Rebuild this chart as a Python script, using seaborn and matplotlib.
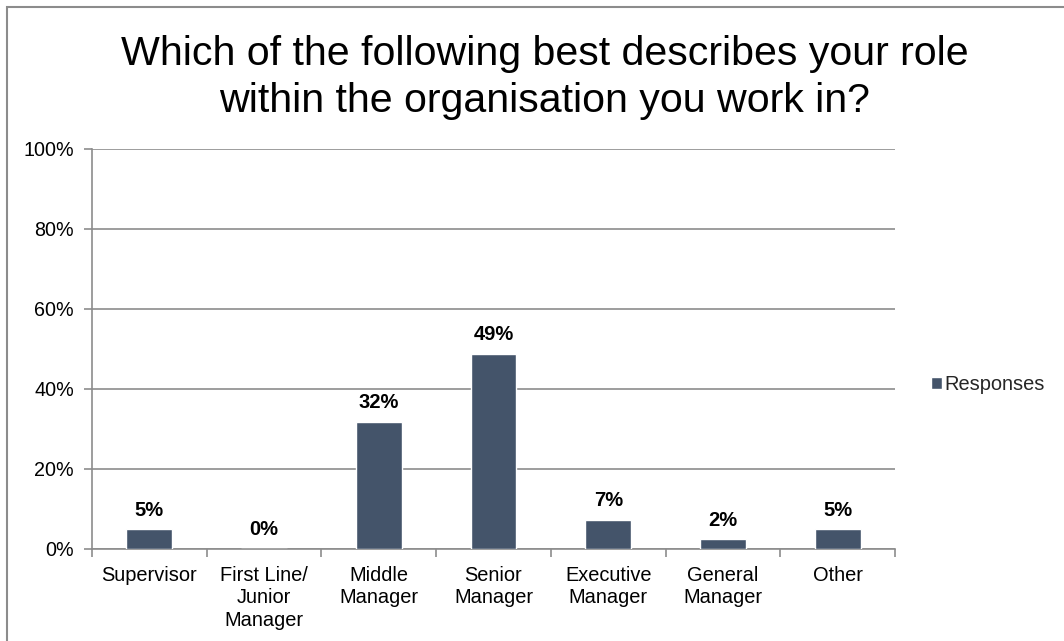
import matplotlib
matplotlib.use("Agg")
import matplotlib.pyplot as plt
import seaborn as sns
import pandas as pd
import numpy as np
from matplotlib.patches import Rectangle

# Survey results: share of respondents per role
roles = ["Supervisor", "First Line/\nJunior\nManager", "Middle\nManager",
         "Senior\nManager", "Executive\nManager", "General\nManager", "Other"]
responses = [4.9, 0.0, 31.7, 48.8, 7.3, 2.4, 4.9]
y_ticks = [0, 20, 40, 60, 80, 100]

sns.set_theme(style="white")
plt.rcParams["font.family"] = ["Liberation Sans", "DejaVu Sans"]

bar_color = "#44546A"
grid_color = "#8C8C8C"

df = pd.DataFrame({"role": roles, "share": responses})

fig = plt.figure(figsize=(10.64, 6.41), dpi=100)
ax = fig.add_axes([92 / 1064, 1 - 549 / 641, (895 - 92) / 1064, 400 / 641])

sns.barplot(data=df, x="role", y="share", color=bar_color, width=0.4,
            saturation=1, ax=ax, label="Responses", zorder=3)

ax.set_ylim(0, 100)
ax.set_xlim(-0.5, len(roles) - 0.5)
ax.set_yticks(y_ticks)
ax.set_yticklabels([f"{v}%" for v in y_ticks], fontsize=14.2, color="black")
ax.yaxis.grid(True, color=grid_color, linewidth=1.2, zorder=0)
ax.set_xlabel("")
ax.set_ylabel("")

# category labels centred, tick marks between categories
ax.set_xticks(range(len(roles)))
ax.set_xticklabels(roles, fontsize=14.4, color="black", linespacing=1.24)
ax.tick_params(axis="x", which="major", length=0, pad=12)
ax.set_xticks(np.arange(-0.5, len(roles)), minor=True)
ax.tick_params(axis="x", which="minor", length=6, width=1.2, color=grid_color,
               direction="out", bottom=True)
ax.tick_params(axis="y", length=6, width=1.2, color=grid_color, left=True,
               direction="out", pad=7)

for side in ["top", "right"]:
    ax.spines[side].set_visible(False)
for side in ["left", "bottom"]:
    ax.spines[side].set_color(grid_color)
    ax.spines[side].set_linewidth(1.2)

# value labels above each bar
for cont in ax.containers:
    ax.bar_label(cont, labels=[f"{v:.0f}%" for v in responses], padding=7,
                 fontsize=14.5, fontweight="bold", color="black")

leg = ax.legend(loc="center left", bbox_to_anchor=(1.033, 0.41), frameon=False,
                fontsize=14.4, handlelength=0.55, handleheight=0.55,
                handletextpad=0.1, borderpad=0)

fig.suptitle("Which of the following best describes your role\nwithin the organisation you work in?",
             x=0.512, y=0.946, fontsize=29.6, color="black", linespacing=1.3)

# outer frame of the chart area
fig.patches.append(Rectangle((7 / 1064, -0.1), 1.2, 1 - 7 / 641 + 0.1,
                             transform=fig.transFigure, fill=False,
                             edgecolor="#8C8C8C", linewidth=1.5))

fig.savefig("out.png", dpi=100)
